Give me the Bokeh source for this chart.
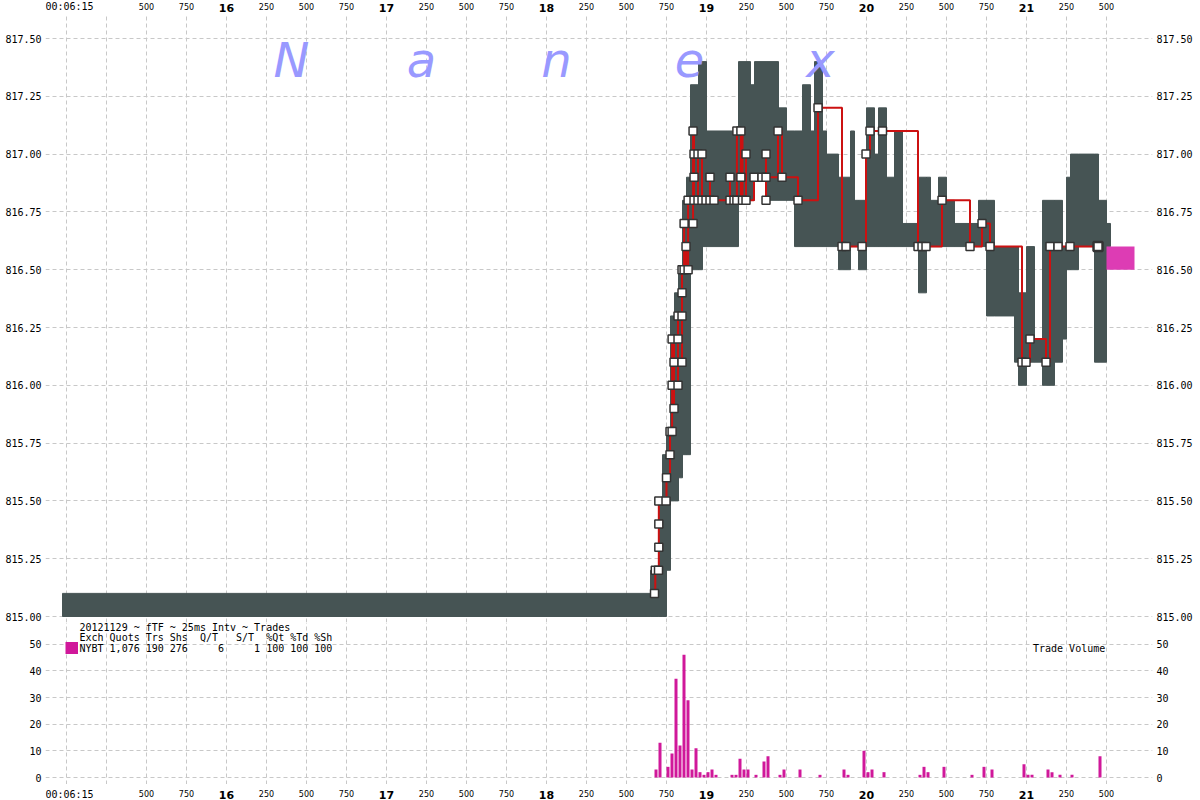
from bokeh.plotting import figure
from bokeh.models import Range1d, LinearAxis, FixedTicker, PrintfTickFormatter, Label, BoxAnnotation
from bokeh.core.properties import value
from bokeh.layouts import column
from bokeh.embed import file_html
from bokeh.resources import INLINE

# ---------------- data (time = ms after 00:06:15.000) ----------------
quote_start = [-25, 3650, 3700, 3725, 3750, 3775, 3800, 3825, 3850, 3875, 3900, 3950, 3975, 4000,
               4200, 4275, 4300, 4375, 4450, 4500, 4550, 4600, 4650, 4675, 4725, 4750, 4825, 4900,
               4925, 4950, 5000, 5050, 5075, 5125, 5175, 5225, 5325, 5375, 5400, 5450, 5500, 5550,
               5700, 5750, 5800, 5925, 5950, 6000, 6050, 6100, 6175, 6225, 6250, 6275, 6325, 6425,
               6450, 6500]
quote_end = [3650, 3700, 3725, 3750, 3775, 3800, 3825, 3850, 3875, 3900, 3950, 3975, 4000, 4200,
             4275, 4300, 4375, 4450, 4500, 4550, 4600, 4650, 4675, 4725, 4750, 4825, 4900, 4925,
             4950, 5000, 5050, 5075, 5125, 5175, 5225, 5325, 5375, 5400, 5450, 5500, 5550, 5700,
             5750, 5800, 5925, 5950, 6000, 6050, 6100, 6175, 6225, 6250, 6275, 6325, 6425, 6450,
             6500, 6525]
quote_bid = [815.0, 815.0, 815.0, 815.0, 815.2, 815.5, 815.5, 815.6, 815.7, 815.7, 816.5, 816.5, 816.6, 816.6,
             816.8, 816.8, 816.9, 816.8, 816.8, 816.8, 816.6, 816.6, 816.6, 816.6, 816.6, 816.6, 816.5, 816.6,
             816.6, 816.5, 816.6, 816.6, 816.6, 816.6, 816.6, 816.6, 816.4, 816.6, 816.6, 816.6, 816.6, 816.6,
             816.6, 816.3, 816.3, 816.1, 816.0, 816.1, 816.1, 816.0, 816.1, 816.2, 816.5, 816.5, 816.6, 816.1,
             816.1, 816.6]
quote_ask = [815.1, 815.2, 815.5, 815.7, 815.8, 816.3, 816.4, 816.5, 816.8, 816.9, 817.3, 817.4, 817.4, 817.1,
             817.4, 817.3, 817.4, 817.4, 817.2, 817.1, 817.1, 817.3, 817.1, 817.4, 817.1, 817.0, 816.9, 817.1,
             816.8, 816.8, 817.2, 817.0, 817.2, 816.9, 817.1, 816.7, 816.9, 816.9, 816.8, 816.9, 816.8, 816.7,
             816.8, 816.8, 816.6, 816.6, 816.4, 816.6, 816.2, 816.8, 816.8, 816.6, 816.9, 817.0, 817.0, 817.0,
             816.8, 816.7]

last_quote_start = [6500]
last_quote_end = [6675]
last_quote_bid = [816.5]
last_quote_ask = [816.6]

trade_t = [3675, 3680, 3700, 3702, 3702, 3702, 3747, 3750, 3772, 3772, 3785, 3785, 3785, 3797, 3797,
           3822, 3822, 3822, 3847, 3847, 3847, 3847, 3860, 3860, 3872, 3885, 3885, 3916, 3916, 3922,
           3922, 3922, 3947, 3947, 3972, 3972, 3997, 4022, 4022, 4047, 4147, 4147, 4172, 4190, 4190,
           4215, 4215, 4225, 4247, 4247, 4297, 4347, 4372, 4372, 4372, 4447, 4472, 4572, 4697, 4847,
           4872, 4972, 4997, 5022, 5100, 5322, 5347, 5372, 5472, 5647, 5722, 5772, 5972, 5997, 6022,
           6122, 6147, 6197, 6272, 6447]
trade_px = [815.1, 815.2, 815.2, 815.3, 815.4, 815.5, 815.5, 815.6, 815.7, 815.8, 815.8, 816.0, 816.2, 815.9, 816.1,
            816.0, 816.2, 816.3, 816.1, 816.3, 816.4, 816.5, 816.7, 816.5, 816.6, 816.5, 816.8, 816.7, 817.1, 816.8,
            816.9, 817.0, 817.0, 816.8, 817.0, 816.8, 816.8, 816.9, 816.8, 816.8, 816.9, 816.8, 816.8, 817.1, 816.8,
            816.9, 817.1, 816.8, 817.0, 816.8, 816.9, 816.9, 817.0, 816.8, 816.9, 817.1, 816.9, 816.8, 817.2, 816.6,
            816.6, 816.6, 817.0, 817.1, 817.1, 816.6, 816.6, 816.6, 816.8, 816.6, 816.7, 816.6, 816.1, 816.1, 816.2,
            816.1, 816.6, 816.6, 816.6, 816.6]

vol_t = [3675, 3700, 3750, 3775, 3800, 3825, 3850, 3875, 3900, 3925, 3950, 3975, 4000, 4025, 4050,
         4150, 4175, 4200, 4225, 4250, 4300, 4350, 4375, 4450, 4475, 4575, 4700, 4850, 4875, 4975,
         5000, 5025, 5100, 5325, 5350, 5375, 5475, 5650, 5725, 5775, 5975, 6000, 6025, 6125, 6150,
         6200, 6275, 6450]
vol_shares = [3, 13, 4, 9, 37, 12, 46, 29, 3, 11, 2, 1, 2, 3, 1,
              1, 1, 7, 3, 3, 1, 6, 8, 1, 3, 3, 1, 3, 1, 10,
              2, 3, 2, 1, 4, 2, 4, 1, 4, 3, 5, 1, 1, 3, 2,
              1, 1, 8]

x_ticks = list(range(0, 6501, 250))
minor_ticks = [t for t in x_ticks if t % 1000 != 0 and t != 250]
minor_labels = [str(t % 1000) for t in minor_ticks]
second_ticks = [1000, 2000, 3000, 4000, 5000, 6000]
second_labels = ["16", "17", "18", "19", "20", "21"]
start_tick = [0]
start_label = ["00:06:15"]
price_ticks = [815.0, 815.25, 815.5, 815.75, 816.0, 816.25, 816.5, 816.75, 817.0, 817.25, 817.5]
vol_ticks = [0, 10, 20, 30, 40, 50]

title_line = "20121129 ~ fTF ~ 25ms Intv ~ Trades"
stat_header = "Exch Quots Trs Shs  Q/T   S/T  %Qt %Td %Sh"
stat_exch, stat_quotes, stat_trades, stat_shares = "NYBT", 1076, 190, 276
stat_qt, stat_st, stat_pq, stat_pt, stat_ps = 6, 1, 100, 100, 100
watermark = ["N", "a", "n", "e", "x"]

# ---------------- styling ----------------
QUOTE = "#465454"
TRADE = "#cc1111"
VOL = "#d0189a"
LASTQ = "#dd3cb4"
GRID = "#c8c8c8"
MONO = "DejaVu Sans Mono"
NB = "\u00a0"
W = 1200
LEFT, RIGHT = 45, 48          # frame spans page x 45..1152

# page-pixel geometry (page has no margin under Bokeh's template)
MS_PER_PX = 6.25
X0_PX = 66.0                  # 00:06:15.000 (25 ms steps land on whole pixels)
P_TOP, P_BOT = 38.0, 616.0    # 817.50 and 815.00
V_TOP, V_BOT = 643.7, 777.0   # 50 and 0 shares

HEAD_TOP, HEAD_BOT = 0, 14
P_FRAME_TOP, P_FRAME_BOT = 14, 622
V_FRAME_TOP, V_FRAME_BOT = 622, 784
FOOT_TOP, FOOT_BOT = 784, 800


def ms_at(px):
    return (px - X0_PX) * MS_PER_PX


def price_at(py):
    return 815.0 + (P_BOT - py) * 2.5 / (P_BOT - P_TOP)


def vol_at(py):
    return (V_BOT - py) * 50.0 / (V_BOT - V_TOP)


x_range = Range1d(ms_at(LEFT), ms_at(W - RIGHT))


def base_fig(height, yr):
    return figure(width=W, height=height, x_range=x_range, y_range=yr,
                  output_backend="svg", toolbar_location=None, tools="",
                  x_axis_location=None, y_axis_location=None,
                  min_border_top=0, min_border_bottom=0, min_border_left=LEFT, min_border_right=RIGHT,
                  background_fill_color="white", border_fill_color="white", outline_line_color=None)


def style_y_axis(ax, ticks, fmt):
    ax.ticker = FixedTicker(ticks=ticks)
    ax.formatter = PrintfTickFormatter(format=fmt)
    ax.major_label_text_font = MONO
    ax.major_label_text_font_size = "10px"
    ax.major_label_text_color = "#000000"
    ax.major_label_standoff = 4
    ax.major_tick_out = 0
    ax.major_tick_in = 0
    ax.minor_tick_out = 0
    ax.minor_tick_in = 0
    ax.major_tick_line_color = None
    ax.minor_tick_line_color = None
    ax.axis_line_color = None


def add_y_axes(p, ticks, fmt):
    for side in ("left", "right"):
        ax = LinearAxis()
        style_y_axis(ax, ticks, fmt)
        p.add_layout(ax, side)


def style_grid(p, yticks):
    p.xgrid.ticker = FixedTicker(ticks=x_ticks)
    p.ygrid.ticker = FixedTicker(ticks=yticks)
    for g in (p.xgrid, p.ygrid):
        g.grid_line_color = GRID
        g.grid_line_dash = "4 3"
        g.grid_line_width = 1


def time_strip(top, bot, y_minor, y_second, y_start):
    # time-axis label strip, sharing the plots' x scale
    s = base_fig(bot - top, Range1d(bot, top))
    s.xgrid.visible = False
    s.ygrid.visible = False
    s.text(x=minor_ticks, y=[y_minor] * len(minor_ticks), text=minor_labels,
           text_font=value("DejaVu Sans"), text_font_size=value("8px"), text_color="#000000",
           text_align="center", text_baseline="middle")
    s.text(x=second_ticks, y=[y_second] * len(second_ticks), text=second_labels,
           text_font=value("DejaVu Sans"), text_font_size=value("11px"), text_font_style="bold",
           text_color="#000000", text_align="center", text_baseline="middle")
    s.text(x=start_tick, y=[y_start], text=start_label, x_offset=3,
           text_font=value(MONO), text_font_size=value("10px"), text_color="#000000",
           text_align="center", text_baseline="middle")
    return s


# ---------------- top time labels ----------------
head = time_strip(HEAD_TOP, HEAD_BOT, 5.5, 7, 6)

# ---------------- price panel ----------------
p1 = base_fig(P_FRAME_BOT - P_FRAME_TOP, Range1d(price_at(P_FRAME_BOT), price_at(P_FRAME_TOP)))
add_y_axes(p1, price_ticks, "%.2f")
style_grid(p1, price_ticks)

p1.quad(left=quote_start, right=quote_end, bottom=quote_bid, top=quote_ask,
        fill_color=QUOTE, line_color=QUOTE, line_width=1)
p1.quad(left=last_quote_start, right=last_quote_end, bottom=last_quote_bid, top=last_quote_ask,
        fill_color=LASTQ, line_color=None)
p1.step(x=trade_t, y=trade_px, mode="after", line_color=TRADE, line_width=2)
p1.scatter(x=trade_t, y=trade_px, marker="square", size=8, fill_color="white",
           line_color="#333333", line_width=1.5)
p1.scatter(x=trade_t[-1:], y=trade_px[-1:], marker="square", size=9, fill_color="white",
           line_color="#333333", line_width=2.5)

for cx, ch in zip([291, 421, 556, 689, 820], watermark):
    p1.add_layout(Label(x=ms_at(cx), y=price_at(59), text=ch, text_align="center",
                        text_baseline="alphabetic", text_font="DejaVu Sans",
                        text_font_style="italic", text_font_size="48px", text_color="#9999ff"))

# ---------------- volume panel ----------------
p2 = base_fig(V_FRAME_BOT - V_FRAME_TOP, Range1d(vol_at(V_FRAME_BOT), vol_at(V_FRAME_TOP)))
add_y_axes(p2, vol_ticks, "%d")
style_grid(p2, vol_ticks)

p2.vbar(x=[t + 9.375 for t in vol_t], width=18.75, top=vol_shares, bottom=0,
        fill_color=VOL, line_color=None)

stat_row = (f"{stat_exch} {stat_quotes:,} {stat_trades} {stat_shares}     {stat_qt}"
            f"     {stat_st} {stat_pq} {stat_pt} {stat_ps}")
for py, txt in [(627, title_line), (637, stat_header), (647.5, stat_row)]:
    p2.add_layout(Label(x=ms_at(79), y=vol_at(py), text=txt.replace(" ", NB), text_align="left",
                        text_baseline="middle", text_font=MONO, text_font_size="10px",
                        text_color="#000000"))
p2.add_layout(BoxAnnotation(left=ms_at(65), right=ms_at(77.5), top=vol_at(641.5), bottom=vol_at(653.5),
                            fill_color=VOL, fill_alpha=1.0, line_color=None))
p2.add_layout(Label(x=ms_at(1032.5), y=vol_at(648), text="Trade" + NB + "Volume", text_align="left",
                    text_baseline="middle", text_font=MONO, text_font_size="10px", text_color="#000000"))

# ---------------- bottom time labels ----------------
foot = time_strip(FOOT_TOP, FOOT_BOT, 793, 794, 793.5)

layout = column(head, p1, p2, foot, spacing=0)
open("out.html", "w").write(file_html(layout, INLINE))
